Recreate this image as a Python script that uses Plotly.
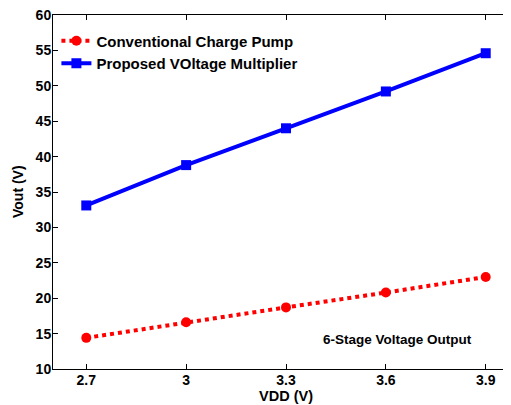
import plotly.graph_objects as go

vdd = [2.7, 3.0, 3.3, 3.6, 3.9]
conventional = [14.4, 16.6, 18.7, 20.8, 23.0]
proposed = [33.1, 38.8, 44.0, 49.2, 54.6]
x_ticks = [2.7, 3.0, 3.3, 3.6, 3.9]
x_tick_labels = ["2.7", "3", "3.3", "3.6", "3.9"]
y_ticks = [10, 15, 20, 25, 30, 35, 40, 45, 50, 55, 60]

FONT = "Liberation Sans, Arial, sans-serif"

fig = go.Figure()
fig.add_trace(go.Scatter(
    x=vdd, y=conventional, mode="lines+markers", name="Conventional Charge Pump",
    line=dict(color="#ff0000", width=4, dash="dot"),
    marker=dict(symbol="circle", size=10, color="#ff0000"),
))
fig.add_trace(go.Scatter(
    x=vdd, y=proposed, mode="lines+markers", name="Proposed VOltage Multiplier",
    line=dict(color="#0000ff", width=4),
    marker=dict(symbol="square", size=10, color="#0000ff"),
))

fig.add_annotation(x=3.9, y=14.1, xref="x", yref="y", text="6-Stage Voltage Output",
                   showarrow=False, xanchor="right", yanchor="middle",
                   font=dict(family=FONT, size=13.5, color="black", weight="bold"),
                   xshift=-12)
fig.add_annotation(x=3.3, y=0, xref="x", yref="paper", text="VDD (V)",
                   showarrow=False, xanchor="center", yanchor="middle",
                   font=dict(family=FONT, size=14.5, color="black", weight="bold"),
                   yshift=-27)
fig.add_annotation(x=0, y=0.5, xref="paper", yref="paper", text="Vout (V)",
                   showarrow=False, xanchor="center", yanchor="middle", textangle=-90,
                   font=dict(family=FONT, size=14, color="black", weight="bold"),
                   xshift=-35)

fig.update_layout(
    width=511, height=405,
    margin=dict(l=45, r=0, t=7, b=44),
    paper_bgcolor="white", plot_bgcolor="white",
    font=dict(family=FONT, size=14, color="black", weight="bold"),
    showlegend=True,
    legend=dict(x=0.0073, y=0.973, xanchor="left", yanchor="top",
                bgcolor="rgba(0,0,0,0)", borderwidth=0,
                font=dict(family=FONT, size=15, color="black", weight="bold"),
                tracegroupgap=0, itemwidth=30),
    xaxis=dict(range=[2.6, 4.0], tickvals=x_ticks, ticktext=x_tick_labels,
               showline=True, linecolor="black", linewidth=1, mirror="ticks",
               ticks="inside", ticklen=5, tickcolor="black", showgrid=False,
               zeroline=False, automargin=False, ticklabeloverflow="allow",
               ticklabelstandoff=-2,
               tickfont=dict(family=FONT, size=14, weight="bold")),
    yaxis=dict(range=[10, 60], tickvals=y_ticks,
               showline=True, linecolor="black", linewidth=1, mirror=False,
               ticks="inside", ticklen=5, tickcolor="black", showgrid=False,
               zeroline=False, automargin=False, ticklabelstandoff=-2,
               ticklabeloverflow="allow",
               tickfont=dict(family=FONT, size=14, weight="bold")),
)

fig.write_html("out.html")
